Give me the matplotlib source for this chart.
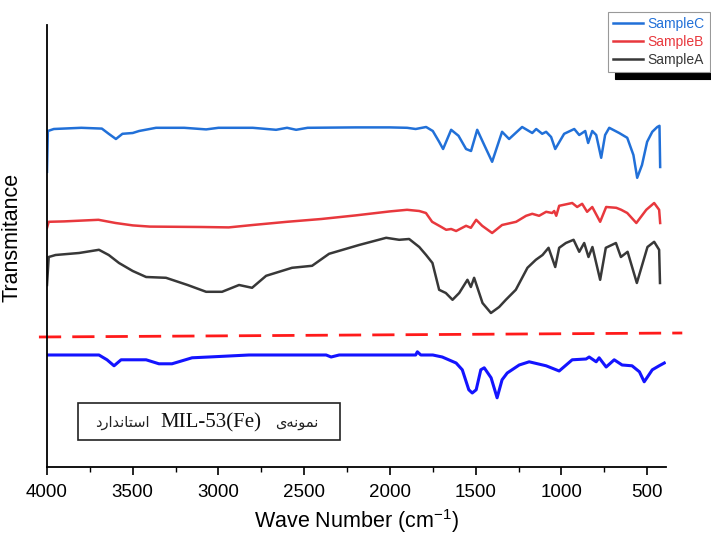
import matplotlib.pyplot as plt
from matplotlib.patches import Rectangle
from matplotlib.ticker import MultipleLocator

# ---------------- SPECTRA (wavenumber, transmittance a.u.) ----------------

wn_c = [4000, 3995, 3960, 3800, 3680, 3640, 3598, 3560, 3500, 3463, 3364, 3200,
        3072, 3000, 2800, 2664, 2600, 2547, 2480, 2200, 2000, 1900, 1850, 1789,
        1750, 1713, 1690, 1643, 1600, 1556, 1527, 1491, 1450, 1404, 1346, 1305,
        1229, 1170, 1147, 1112, 1089, 1060, 1036, 984, 925, 896, 861, 844, 820,
        797, 768, 745, 721, 663, 616, 580, 558, 530, 500, 470, 441, 428, 424]
t_c = [73.8, 84.0, 84.5, 84.8, 84.6, 83.3, 82.0, 83.3, 83.5, 84.0, 84.8, 84.8,
       84.4, 84.8, 84.8, 84.3, 84.8, 84.3, 84.8, 84.9, 84.9, 84.8, 84.5, 85.0,
       84.0, 81.3, 79.5, 84.3, 82.8, 79.5, 79.0, 84.3, 80.5, 76.3, 83.8, 82.0,
       85.0, 83.5, 84.5, 83.3, 83.8, 82.5, 79.5, 83.3, 84.5, 83.0, 84.0, 81.0,
       84.0, 83.0, 77.3, 83.0, 84.8, 83.5, 82.3, 78.0, 72.3, 75.5, 81.3, 83.8,
       85.0, 85.3, 75.0]

wn_b = [4000, 3990, 3900, 3700, 3600, 3500, 3400, 3100, 2940, 2800, 2600, 2400,
        2200, 2000, 1900, 1829, 1790, 1754, 1700, 1672, 1643, 1614, 1556, 1528,
        1497, 1462, 1404, 1346, 1264, 1206, 1170, 1130, 1089, 1054, 1042, 1030,
        1013, 937, 908, 879, 850, 820, 774, 739, 680, 651, 616, 563, 505, 459,
        430, 424]
t_b = [59.8, 61.3, 61.4, 61.8, 61.0, 60.4, 60.1, 60.0, 59.9, 60.5, 61.3, 62.0,
       62.9, 63.9, 64.3, 64.0, 63.5, 61.3, 60.0, 59.3, 59.5, 59.0, 60.3, 59.8,
       61.8, 60.3, 58.5, 60.5, 61.3, 62.8, 63.3, 62.8, 63.8, 63.5, 64.0, 62.8,
       65.3, 66.0, 65.0, 65.8, 63.8, 65.0, 61.3, 65.0, 64.8, 64.3, 63.5, 61.0,
       64.3, 66.0, 64.3, 61.0]

wn_a = [4000, 3990, 3950, 3813, 3697, 3640, 3580, 3500, 3422, 3306, 3180, 3072,
        2979, 2880, 2804, 2722, 2571, 2454, 2355, 2180, 2022, 1946, 1888, 1829,
        1789, 1752, 1713, 1674, 1635, 1596, 1548, 1528, 1509, 1460, 1411, 1363,
        1324, 1266, 1198, 1149, 1110, 1075, 1036, 1013, 974, 929, 896, 867, 842,
        819, 774, 741, 682, 653, 614, 560, 498, 459, 430, 425]
t_a = [45.5, 52.5, 53.0, 53.5, 54.3, 53.0, 51.0, 49.0, 47.5, 47.3, 45.5, 43.8,
       43.8, 45.5, 44.8, 47.8, 49.8, 50.3, 53.3, 55.5, 57.3, 56.8, 57.0, 55.0,
       53.0, 51.0, 44.3, 43.5, 41.8, 43.5, 46.8, 45.0, 47.3, 41.0, 38.5, 40.0,
       41.8, 44.3, 49.8, 51.8, 53.0, 54.8, 50.0, 54.8, 56.0, 56.8, 53.8, 56.0,
       52.5, 55.0, 46.8, 54.8, 56.0, 52.5, 53.8, 46.0, 55.0, 56.3, 54.3, 46.0]

# reference spectrum of standard MIL-53(Fe)
wn_std = [4000, 3697, 3650, 3609, 3568, 3422, 3347, 3271, 3154, 3055, 2822, 2372,
          2343, 2296, 1850, 1840, 1820, 1750, 1695, 1614, 1578, 1540, 1520, 1497,
          1470, 1450, 1410, 1375, 1346, 1316, 1246, 1188, 1089, 1013, 937, 856,
          838, 797, 780, 739, 692, 646, 588, 545, 517, 470, 430, 400]
t_std = [28.0, 28.0, 26.8, 25.3, 26.8, 26.8, 25.8, 25.8, 27.3, 27.5, 28.0, 28.0,
         27.5, 28.0, 28.0, 28.8, 28.0, 28.0, 27.5, 26.0, 24.3, 19.3, 18.5, 19.3,
         24.3, 24.8, 22.3, 17.3, 21.8, 23.5, 25.5, 26.3, 25.3, 24.0, 26.8, 27.0,
         27.5, 26.3, 27.3, 25.0, 26.8, 25.5, 25.3, 23.8, 21.3, 24.3, 25.3, 26.0]

# separator between samples and standard
wn_sep = [4047, 295]
t_sep = [32.5, 33.5]

# ---------------- PLOT ----------------

plt.rcParams['font.family'] = ['Liberation Sans', 'DejaVu Sans']
plt.rcParams['mathtext.default'] = 'regular'

fig = plt.figure(figsize=(7.11, 5.40), dpi=100)
ax = fig.add_axes([0.0661, 0.1352, 0.8706, 0.8185])

ax.plot(wn_c, t_c, color='#2170d8', lw=1.8, label='SampleC')
ax.plot(wn_b, t_b, color='#e8383d', lw=1.8, label='SampleB')
ax.plot(wn_a, t_a, color='#383838', lw=1.8, label='SampleA')
ax.plot(wn_std, t_std, color='#1414ff', lw=2.2)
ax.plot(wn_sep, t_sep, color='#ff1a1a', lw=2.0, dashes=(8, 4), clip_on=False)

ax.set_xlim(4000, 390)
ax.set_ylim(0, 110.5)
ax.xaxis.set_major_locator(MultipleLocator(500))
ax.xaxis.set_minor_locator(MultipleLocator(250))
ax.set_yticks([])
for s in ['top', 'right']:
    ax.spines[s].set_visible(False)
ax.spines['left'].set_linewidth(1.3)
ax.spines['bottom'].set_linewidth(1.3)
ax.tick_params(axis='x', which='major', length=6, width=1.2, labelsize=13.5,
               direction='out', pad=6)
ax.tick_params(axis='x', which='minor', length=3.5, width=1.0, direction='out')

ax.set_xlabel('Wave Number (cm$^{-1}$)', fontsize=15.5)
ax.xaxis.set_label_coords(0.5, -0.09)
ax.set_ylabel('Transmitance', fontsize=15.5)
ax.yaxis.set_label_coords(-0.04, 0.52)

# label box for the standard spectrum
ax.add_patch(Rectangle((0.050, 0.060), 0.423, 0.085, transform=ax.transAxes,
                       fill=False, ec='#222222', lw=1.2))
ax.text(0.121, 0.100, '\u062F\u0631\u0627\uFEAA\uFEE7\uFE8E\uFE98\uFEB3\u0627',
        transform=ax.transAxes, ha='center', va='center', fontsize=10.5,
        family=['DejaVu Sans'], color='#222222')
ax.text(0.265, 0.100, 'MIL-53(Fe)', transform=ax.transAxes, ha='center', va='center',
        fontsize=15, family=['Liberation Serif'], color='#111111')
ax.text(0.404, 0.100, '\u06CC\uFEEA\uFEE7\uFEEE\uFEE4\uFEE7',
        transform=ax.transAxes, ha='center', va='center', fontsize=10.5,
        family=['DejaVu Sans'], color='#222222')

leg = ax.legend(loc='upper left', bbox_to_anchor=(608 / 711, 1 - 12 / 540),
                bbox_transform=fig.transFigure, borderaxespad=0, fancybox=False,
                shadow={'ox': 5, 'oy': -5, 'color': 'black', 'alpha': 1},
                labelcolor='linecolor', prop={'family': 'Liberation Sans', 'size': 10},
                handlelength=2.2, handletextpad=0.3, labelspacing=0.3,
                borderpad=0.35, framealpha=1)
leg.get_frame().set_edgecolor('#999999')
leg.get_frame().set_linewidth(0.8)

fig.savefig('out.png', dpi=100)
